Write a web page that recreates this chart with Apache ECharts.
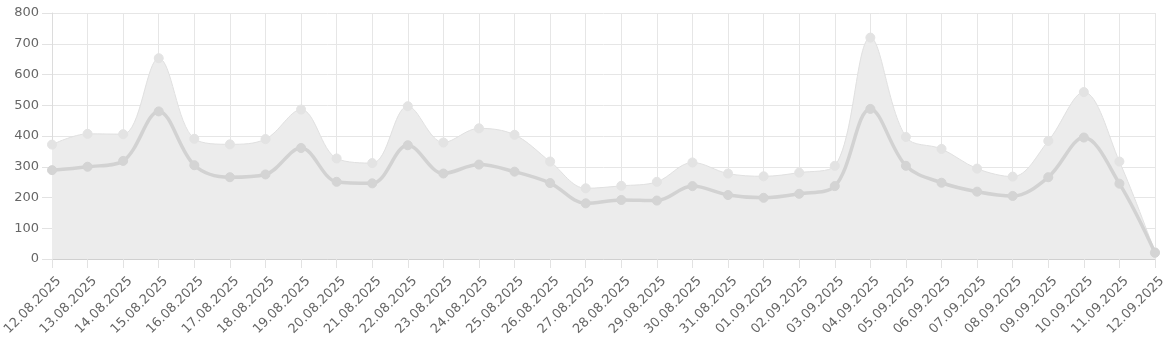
<!DOCTYPE html>
<html><head><meta charset="utf-8">
<script src="https://cdn.jsdelivr.net/npm/echarts@6/dist/echarts.min.js"></script>
<style>html,body{margin:0;padding:0;background:#fff}#c{width:1171px;height:338px}</style>
</head><body><div id="c"></div>
<script>
const categories = ["12.08.2025","13.08.2025","14.08.2025","15.08.2025","16.08.2025","17.08.2025","18.08.2025","19.08.2025","20.08.2025","21.08.2025","22.08.2025","23.08.2025","24.08.2025","25.08.2025","26.08.2025","27.08.2025","28.08.2025","29.08.2025","30.08.2025","31.08.2025","01.09.2025","02.09.2025","03.09.2025","04.09.2025","05.09.2025","06.09.2025","07.09.2025","08.09.2025","09.09.2025","10.09.2025","11.09.2025","12.09.2025"];
const upperValues = [372,407,406,653,391,373,390,486,327,312,497,379,425,404,317,230,238,251,314,278,269,281,303,720,397,358,294,268,384,543,317,22];
const lowerValues = [289,300,319,480,305,266,275,361,251,246,370,278,307,284,247,181,192,190,237,208,199,212,237,488,303,248,219,205,266,395,245,20];
const yTicks = [0,100,200,300,400,500,600,700,800];

const chart = echarts.init(document.getElementById('c'), null, {renderer:'canvas'});
chart.setOption({
  animation:false,
  grid:{left:52,right:16,top:13,bottom:79,containLabel:false,outerBoundsMode:'none'},
  xAxis:{
    type:'category', data:categories, boundaryGap:false,
    axisLine:{lineStyle:{color:'#d0d0d0'}},
    axisTick:{show:true,length:9,alignWithLabel:true,lineStyle:{color:'#e2e2e2'}},
    splitLine:{show:true,lineStyle:{color:'#e6e6e6'}},
    axisLabel:{rotate:45,color:'#666',fontSize:13,fontFamily:'DejaVu Sans',interval:0,margin:13,
      align:'right',verticalAlign:'top',lineHeight:20}
  },
  yAxis:{
    type:'value', min:yTicks[0], max:yTicks[yTicks.length-1], interval:100,
    axisLine:{show:true,lineStyle:{color:'#dcdcdc'}},
    axisTick:{show:true,length:10,lineStyle:{color:'#e2e2e2'}},
    splitLine:{lineStyle:{color:'#e6e6e6'}},
    axisLabel:{color:'#666',fontSize:13,fontFamily:'DejaVu Sans',margin:13}
  },
  series:[
    {type:'line',data:upperValues,smooth:0.35,symbol:'circle',symbolSize:9,
     lineStyle:{color:'#e0e0e0',width:1},itemStyle:{color:'#e3e3e3',borderColor:'#e3e3e3'},
     areaStyle:{color:'#ececec',opacity:1},z:2},
    {type:'line',data:lowerValues,smooth:0.35,symbol:'circle',symbolSize:9,
     lineStyle:{color:'#d2d2d2',width:3.5},itemStyle:{color:'#d4d4d4',borderColor:'#d4d4d4'},z:3}
  ]
});
</script></body></html>
